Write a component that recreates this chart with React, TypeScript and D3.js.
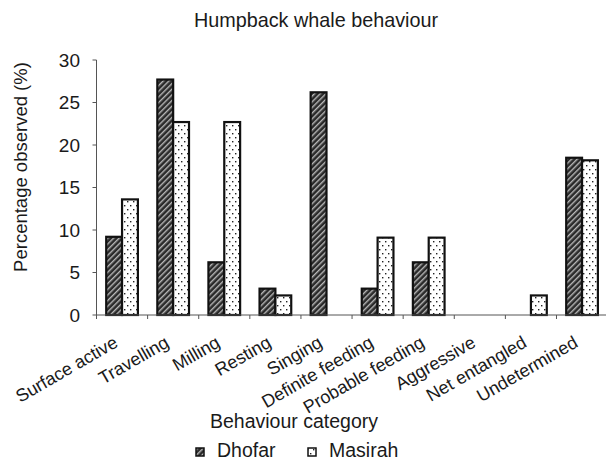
import React from "react";
import * as d3 from "d3";

const categories = [
  "Surface active",
  "Travelling",
  "Milling",
  "Resting",
  "Singing",
  "Definite feeding",
  "Probable feeding",
  "Aggressive",
  "Net entangled",
  "Undetermined",
];
const seriesNames = ["Dhofar", "Masirah"];
const dhofar = [9.2, 27.7, 6.2, 3.1, 26.2, 3.1, 6.2, 0, 0, 18.5];
const masirah = [13.6, 22.7, 22.7, 2.3, 0, 9.1, 9.1, 0, 2.3, 18.2];
const yTicks = [0, 5, 10, 15, 20, 25, 30];

const W = 606;
const H = 463;
const FONT = "'Liberation Sans', Arial, sans-serif";

export default function App() {
  const x = d3.scaleBand<string>().domain(categories).range([96.5, 607.6]).paddingInner(0).paddingOuter(0);
  const bw = x.bandwidth();
  const xs = d3.scaleBand<string>().domain(seriesNames).range([bw * 0.19, bw * 0.81]);
  const y = d3.scaleLinear().domain([0, 30]).range([315, 60]);
  const values = [dhofar, masirah];
  const fills = ["url(#hatch)", "url(#dots)"];

  return (
    <svg width={W} height={H} style={{ position: "absolute", left: 0, top: 0, background: "#fff" }}>
      <defs>
        <pattern id="hatch" width="4" height="4" patternUnits="userSpaceOnUse" patternTransform="rotate(45)">
          <rect width="4" height="4" fill="#2a2a2a" />
          <rect x="0" y="0" width="1.4" height="4" fill="#b8b8b8" />
        </pattern>
        <pattern id="dots" width="6" height="8" patternUnits="userSpaceOnUse">
          <rect width="6" height="8" fill="#fff" />
          <rect x="1" y="1" width="1.4" height="1.4" fill="#222" />
          <rect x="4" y="5" width="1.4" height="1.4" fill="#222" />
        </pattern>
      </defs>
      <rect x={0} y={0} width={W} height={H} fill="#fff" />
      <text x={316} y={27} textAnchor="middle" fontFamily={FONT} fontSize={19.8} fill="#1a1a1a">
        Humpback whale behaviour
      </text>

      {/* bars */}
      {categories.map((c, i) =>
        seriesNames.map((s, j) => {
          const v = values[j][i];
          if (v <= 0) return null;
          const bx = (x(c) as number) + (xs(s) as number);
          return (
            <rect
              key={c + s}
              x={bx}
              y={y(v)}
              width={xs.bandwidth()}
              height={y(0) - y(v)}
              fill={fills[j]}
              stroke="#111"
              strokeWidth={2.2}
            />
          );
        })
      )}

      {/* y axis */}
      <line x1={96.5} x2={96.5} y1={y(30)} y2={y(0)} stroke="#555" strokeWidth={1} />
      {yTicks.map((t) => (
        <g key={t}>
          <line x1={92.5} x2={96.5} y1={y(t)} y2={y(t)} stroke="#555" />
          <text x={80} y={y(t)} dy="0.36em" textAnchor="end" fontFamily={FONT} fontSize={19} fill="#1a1a1a">
            {t}
          </text>
        </g>
      ))}
      <text
        transform={`translate(27,${167}) rotate(-90)`}
        textAnchor="middle"
        fontFamily={FONT}
        fontSize={18.5}
        fill="#1a1a1a"
      >
        Percentage observed (%)
      </text>

      {/* x axis */}
      <line x1={96.5} x2={W} y1={y(0)} y2={y(0)} stroke="#555" />
      {categories.map((c) => (
        <line key={c} x1={x(c) as number} x2={x(c) as number} y1={y(0)} y2={y(0) + 4} stroke="#555" />
      ))}
      {categories.map((c) => (
        <text
          key={c}
          transform={`translate(${(x(c) as number) + bw / 2 - 3},${346}) rotate(-30)`}
          textAnchor="end"
          fontFamily={FONT}
          fontSize={18}
          fill="#1a1a1a"
        >
          {c}
        </text>
      ))}
      <text x={294} y={428} textAnchor="middle" fontFamily={FONT} fontSize={19.5} fill="#1a1a1a">
        Behaviour category
      </text>

      {/* legend */}
      {seriesNames.map((s, j) => {
        const lx = [196, 308][j];
        return (
          <g key={s}>
            <rect x={lx} y={448} width={8} height={8} fill={fills[j]} stroke="#111" strokeWidth={1.5} />
            <text x={lx + 21} y={457} fontFamily={FONT} fontSize={19.5} fill="#1a1a1a">
              {s}
            </text>
          </g>
        );
      })}
    </svg>
  );
}
